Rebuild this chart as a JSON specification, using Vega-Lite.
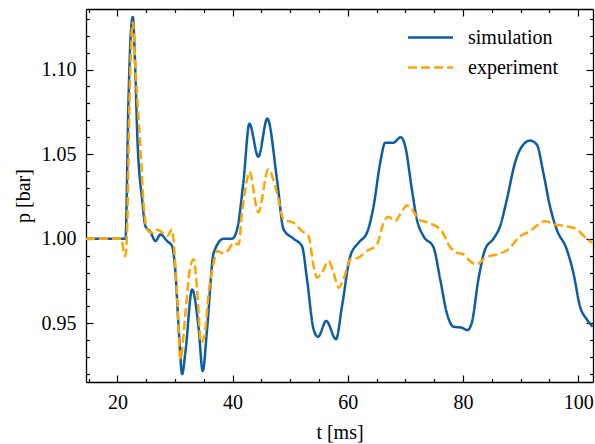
{
  "$schema": "https://vega.github.io/schema/vega-lite/v6.json",
  "width": 507,
  "height": 373,
  "autosize": {"type": "none"},
  "padding": {"left": 86, "top": 9, "right": 2, "bottom": 62},
  "background": "white",
  "config": {
    "view": {"stroke": null},
    "axis": {"labelFontSize": 20, "titleFontSize": 20, "titleFontWeight": "normal", "labelColor": "black", "titleColor": "black", "domainColor": "black", "domainWidth": 1.3, "tickColor": "black", "tickWidth": 1.2, "ticks": true, "grid": false, "labelOverlap": false, "labelFlush": false},
    "legend": {"orient": "none", "legendX": 332, "legendY": 16, "title": null, "symbolType": "M-2,0H2", "symbolSize": 506, "symbolStrokeWidth": 2.5, "labelFont": "Times New Roman", "labelFontSize": 20, "labelColor": "black", "labelOffset": 25, "rowPadding": 7}
  },
  "datasets": {
    "sim": [
      {"t": 14.55, "p": 1.0}, {"t": 21.4, "p": 1.0}, {"t": 21.93, "p": 1.0823}, {"t": 22.27, "p": 1.1176}, {"t": 22.67, "p": 1.131}, {"t": 23.05, "p": 1.1058}, {"t": 23.43, "p": 1.063}, {"t": 24.3, "p": 1.023}, {"t": 24.87, "p": 1.0074}, {"t": 25.74, "p": 1.004}, {"t": 26.61, "p": 0.9986}, {"t": 27.47, "p": 1.0025}, {"t": 28.64, "p": 0.9986}, {"t": 29.5, "p": 0.9956}, {"t": 30.08, "p": 0.98}, {"t": 30.65, "p": 0.9465}, {"t": 31.24, "p": 0.92}, {"t": 31.81, "p": 0.933}, {"t": 32.97, "p": 0.97}, {"t": 34.12, "p": 0.9465}, {"t": 34.81, "p": 0.9218}, {"t": 35.57, "p": 0.9465}, {"t": 36.72, "p": 0.9917}, {"t": 38.45, "p": 1.0}, {"t": 39.91, "p": 1.0}, {"t": 40.78, "p": 1.0055}, {"t": 41.92, "p": 1.035}, {"t": 42.91, "p": 1.068}, {"t": 44.47, "p": 1.0485}, {"t": 46.03, "p": 1.071}, {"t": 47.71, "p": 1.035}, {"t": 48.86, "p": 1.0055}, {"t": 50.59, "p": 1.0}, {"t": 52.05, "p": 0.9956}, {"t": 52.92, "p": 0.976}, {"t": 54.06, "p": 0.9465}, {"t": 54.83, "p": 0.942}, {"t": 56.26, "p": 0.9514}, {"t": 57.95, "p": 0.9406}, {"t": 58.99, "p": 0.96}, {"t": 60.43, "p": 0.9897}, {"t": 61.87, "p": 0.9976}, {"t": 63.32, "p": 1.0035}, {"t": 64.47, "p": 1.019}, {"t": 65.63, "p": 1.045}, {"t": 66.5, "p": 1.0567}, {"t": 67.83, "p": 1.0567}, {"t": 69.22, "p": 1.06}, {"t": 69.97, "p": 1.0547}, {"t": 71.13, "p": 1.029}, {"t": 72.0, "p": 1.0114}, {"t": 73.14, "p": 1.0015}, {"t": 74.87, "p": 0.995}, {"t": 76.04, "p": 0.976}, {"t": 77.2, "p": 0.956}, {"t": 78.34, "p": 0.948}, {"t": 79.8, "p": 0.9474}, {"t": 80.77, "p": 0.946}, {"t": 81.53, "p": 0.9504}, {"t": 82.68, "p": 0.976}, {"t": 83.84, "p": 0.9937}, {"t": 85.28, "p": 1.0}, {"t": 86.44, "p": 1.0074}, {"t": 87.6, "p": 1.023}, {"t": 89.04, "p": 1.045}, {"t": 90.48, "p": 1.0557}, {"t": 91.64, "p": 1.058}, {"t": 92.81, "p": 1.0557}, {"t": 93.95, "p": 1.039}, {"t": 95.11, "p": 1.019}, {"t": 96.27, "p": 1.0055}, {"t": 98.01, "p": 0.9937}, {"t": 99.15, "p": 0.98}, {"t": 100.31, "p": 0.96}, {"t": 101.48, "p": 0.9524}, {"t": 102.52, "p": 0.948}
    ],
    "exp": [
      {"t": 14.55, "p": 1.0}, {"t": 20.71, "p": 1.0}, {"t": 21.11, "p": 0.992}, {"t": 21.4, "p": 0.9897}, {"t": 21.7, "p": 1.0074}, {"t": 22.1, "p": 1.08}, {"t": 22.67, "p": 1.128}, {"t": 23.14, "p": 1.1}, {"t": 24.01, "p": 1.0527}, {"t": 24.58, "p": 1.019}, {"t": 25.17, "p": 1.0055}, {"t": 26.04, "p": 1.0035}, {"t": 26.61, "p": 1.0055}, {"t": 27.47, "p": 1.0045}, {"t": 28.64, "p": 1.0015}, {"t": 29.5, "p": 1.0055}, {"t": 29.78, "p": 0.9976}, {"t": 30.37, "p": 0.966}, {"t": 30.94, "p": 0.9287}, {"t": 31.81, "p": 0.956}, {"t": 32.68, "p": 0.9838}, {"t": 33.25, "p": 0.9878}, {"t": 33.84, "p": 0.97}, {"t": 34.53, "p": 0.9386}, {"t": 35.11, "p": 0.9425}, {"t": 35.85, "p": 0.968}, {"t": 36.72, "p": 0.9858}, {"t": 37.31, "p": 0.9927}, {"t": 38.45, "p": 0.9913}, {"t": 39.32, "p": 0.9937}, {"t": 40.19, "p": 0.9976}, {"t": 41.05, "p": 0.9966}, {"t": 41.64, "p": 1.0153}, {"t": 42.51, "p": 1.035}, {"t": 42.91, "p": 1.0397}, {"t": 44.47, "p": 1.0155}, {"t": 46.2, "p": 1.041}, {"t": 47.71, "p": 1.027}, {"t": 48.86, "p": 1.0114}, {"t": 50.59, "p": 1.0094}, {"t": 52.05, "p": 1.0045}, {"t": 53.19, "p": 1.0015}, {"t": 54.06, "p": 0.9838}, {"t": 54.65, "p": 0.977}, {"t": 55.52, "p": 0.98}, {"t": 56.66, "p": 0.9868}, {"t": 57.53, "p": 0.98}, {"t": 58.4, "p": 0.971}, {"t": 59.26, "p": 0.976}, {"t": 60.43, "p": 0.9878}, {"t": 61.87, "p": 0.9888}, {"t": 63.32, "p": 0.9927}, {"t": 65.06, "p": 0.9966}, {"t": 66.2, "p": 1.0094}, {"t": 67.07, "p": 1.013}, {"t": 68.23, "p": 1.0104}, {"t": 69.39, "p": 1.0163}, {"t": 70.26, "p": 1.0197}, {"t": 71.13, "p": 1.0177}, {"t": 72.27, "p": 1.0114}, {"t": 74.01, "p": 1.0094}, {"t": 76.33, "p": 1.0045}, {"t": 77.47, "p": 0.9966}, {"t": 78.64, "p": 0.9921}, {"t": 80.08, "p": 0.9907}, {"t": 81.24, "p": 0.9868}, {"t": 82.4, "p": 0.9848}, {"t": 83.84, "p": 0.9888}, {"t": 85.87, "p": 0.9907}, {"t": 87.88, "p": 0.9937}, {"t": 89.91, "p": 1.0015}, {"t": 91.64, "p": 1.0045}, {"t": 93.08, "p": 1.0084}, {"t": 94.25, "p": 1.0104}, {"t": 95.98, "p": 1.0084}, {"t": 98.01, "p": 1.0074}, {"t": 99.74, "p": 1.0055}, {"t": 101.48, "p": 1.0}, {"t": 102.5, "p": 0.9976}
    ]
  },
  "layer": [
    {
      "data": {"name": "sim"},
      "transform": [{"calculate": "'simulation'", "as": "series"}],
      "mark": {"type": "line", "interpolate": "monotone", "strokeWidth": 2.5, "clip": true},
      "encoding": {
        "x": {"field": "t", "type": "quantitative", "scale": {"domain": [14.55, 102.57], "nice": false, "zero": false},
          "axis": {"orient": "bottom", "title": "t [ms]", "titleFont": "Times New Roman", "labelFont": "Times New Roman", "titlePadding": 10, "values": [15, 20, 25, 30, 35, 40, 45, 50, 55, 60, 65, 70, 75, 80, 85, 90, 95, 100],
            "labelExpr": "datum.value % 20 === 0 ? datum.label : ''",
            "tickSize": -7, "labelPadding": 17,
            "tickDash": {"condition": {"test": "datum.value % 20 === 0", "value": [8, 0]}, "value": [3.5, 20]}}},
        "y": {"field": "p", "type": "quantitative", "scale": {"domain": [0.9153, 1.1358], "nice": false, "zero": false},
          "axis": {"orient": "left", "title": "p [bar]", "titleFont": "Times New Roman", "labelFont": "Times New Roman", "titlePadding": 8, "values": [0.92, 0.93, 0.94, 0.95, 0.96, 0.97, 0.98, 0.99, 1.0, 1.01, 1.02, 1.03, 1.04, 1.05, 1.06, 1.07, 1.08, 1.09, 1.1, 1.11, 1.12, 1.13],
            "labelExpr": "round(datum.value*100) % 5 === 0 ? format(datum.value, '.2f') : ''",
            "tickSize": -7, "labelPadding": 17,
            "tickDash": {"condition": {"test": "round(datum.value*100) % 5 === 0", "value": [8, 0]}, "value": [3.5, 20]}}},
        "color": {"field": "series", "type": "nominal", "scale": {"domain": ["simulation", "experiment"], "range": ["#0C5DA5", "#FFA500"]}},
        "strokeDash": {"field": "series", "type": "nominal", "scale": {"domain": ["simulation", "experiment"], "range": [[1, 0], [9, 4]]}}
      }
    },
    {
      "data": {"name": "exp"},
      "transform": [{"calculate": "'experiment'", "as": "series"}],
      "mark": {"type": "line", "interpolate": "monotone", "strokeWidth": 2.5, "clip": true},
      "encoding": {
        "x": {"field": "t", "type": "quantitative", "axis": null},
        "y": {"field": "p", "type": "quantitative", "axis": null},
        "color": {"field": "series", "type": "nominal"},
        "strokeDash": {"field": "series", "type": "nominal"}
      }
    },
    {
      "data": {"name": "sim"},
      "mark": {"type": "line", "opacity": 0},
      "encoding": {
        "x": {"field": "t", "type": "quantitative",
          "axis": {"orient": "top", "title": null, "labels": false, "values": [15, 20, 25, 30, 35, 40, 45, 50, 55, 60, 65, 70, 75, 80, 85, 90, 95, 100],
            "tickSize": {"condition": {"test": "datum.value % 20 === 0", "value": -7}, "value": -3.5}}},
        "y": {"field": "p", "type": "quantitative",
          "axis": {"orient": "right", "title": null, "labels": false, "values": [0.92, 0.93, 0.94, 0.95, 0.96, 0.97, 0.98, 0.99, 1.0, 1.01, 1.02, 1.03, 1.04, 1.05, 1.06, 1.07, 1.08, 1.09, 1.1, 1.11, 1.12, 1.13],
            "tickSize": {"condition": {"test": "round(datum.value*100) % 5 === 0", "value": -7}, "value": -3.5}}}
      }
    }
  ],
  "resolve": {"axis": {"x": "independent", "y": "independent"}}
}
